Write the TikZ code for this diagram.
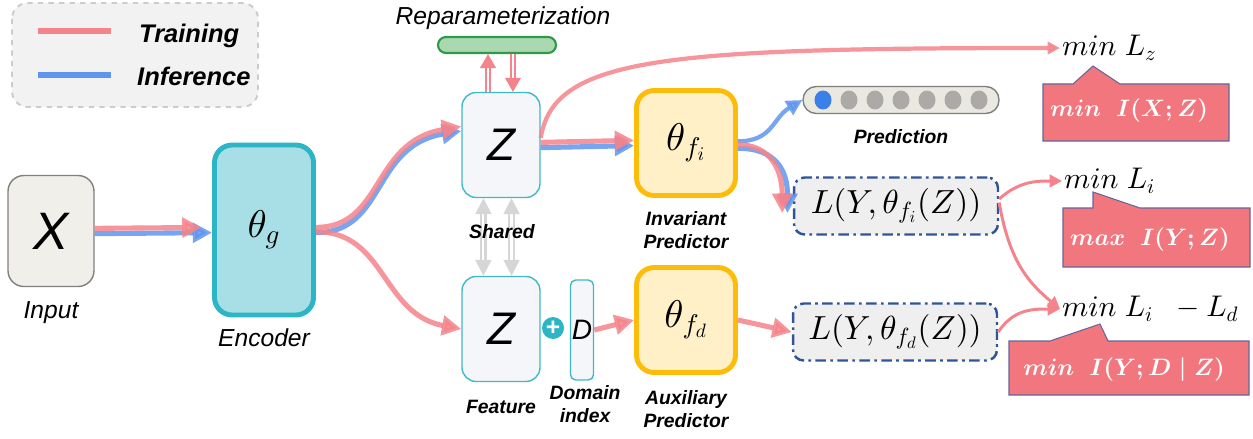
\documentclass[tikz,border=0pt]{standalone}
\usepackage[no-math]{fontspec}
\setmainfont{Liberation Sans}
\usetikzlibrary{positioning,arrows.meta,shapes.geometric}
\DeclareFontShape{OML}{cmm}{m}{it}{<->cmmi10}{}
\DeclareFontShape{OML}{cmm}{b}{it}{<->cmmib10}{}
\DeclareFontShape{OMS}{cmsy}{m}{n}{<->cmsy10}{}
\DeclareFontShape{OMS}{cmsy}{b}{n}{<->cmbsy10}{}
\DeclareFontShape{OT1}{cmr}{m}{n}{<->cmr10}{}
\DeclareFontShape{OT1}{cmr}{bx}{n}{<->cmbx10}{}

\definecolor{trainred}{HTML}{F4838B}
\definecolor{inferblue}{HTML}{5F95EE}
\definecolor{legendgray}{HTML}{F2F2F2}
\definecolor{inputfill}{HTML}{F0EFE9}
\definecolor{encfill}{HTML}{A8DFE6}
\definecolor{encline}{HTML}{2BB5C5}
\definecolor{featfill}{HTML}{F4F6FA}
\definecolor{featline}{HTML}{3FB8C8}
\definecolor{predfill}{HTML}{FFF0C8}
\definecolor{predline}{HTML}{FCBD0A}
\definecolor{lossfill}{HTML}{EFEFEF}
\definecolor{lossline}{HTML}{2F5597}
\definecolor{reparfill}{HTML}{A9D8B1}
\definecolor{reparline}{HTML}{2E9A47}
\definecolor{calloutfill}{HTML}{F2767E}
\definecolor{sharedgray}{HTML}{D6D6D6}
\definecolor{dotgray}{HTML}{ADA9A6}
\definecolor{dotblue}{HTML}{3C7FE6}
\definecolor{barfill}{HTML}{E9E9E1}

\tikzset{
  legendtext/.style={font=\fontsize{14.5}{16}\selectfont\bfseries\itshape, anchor=west},
  caption/.style={font=\fontsize{14}{16}\selectfont\itshape},
  tag/.style={font=\fontsize{11}{13}\selectfont\bfseries\itshape, align=center},
  inbox/.style={draw=gray, fill=inputfill, rounded corners=9pt, line width=0.8pt, minimum width=1.72cm, minimum height=2.22cm, font=\fontsize{30}{32}\selectfont\itshape},
  encbox/.style={draw=encline, fill=encfill, rounded corners=10pt, line width=2.8pt, minimum width=1.98cm, minimum height=3.4cm, font=\fontsize{22}{24}\selectfont},
  featbox/.style={draw=featline, fill=featfill, rounded corners=8pt, line width=0.8pt, minimum width=1.56cm, minimum height=2.1cm, font=\fontsize{26}{28}\selectfont\itshape},
  predbox/.style={draw=predline, fill=predfill, rounded corners=10pt, line width=2.8pt, minimum width=1.98cm, minimum height=2.1cm, font=\fontsize{22}{24}\selectfont},
  lossbox/.style={draw=lossline, fill=lossfill, rounded corners=6pt, line width=1.4pt, dash pattern=on 6pt off 2.5pt on 1.5pt off 2.5pt, minimum width=4.08cm, minimum height=1.14cm, font=\fontsize{19}{21}\selectfont},
  mintext/.style={font=\fontsize{17}{19}\selectfont, anchor=west, inner sep=1pt},
  calloutbox/.style={fill=calloutfill, draw=gray!80!blue, line width=0.6pt},
  callouttext/.style={text=white, font=\fontsize{13.5}{15}\selectfont\boldmath},
  dotnode/.style={ellipse, fill=dotgray, minimum width=0.34cm, minimum height=0.38cm, inner sep=0pt},
  trainpath/.style={draw=trainred, line width=2.9pt, opacity=0.85},
  inferpath/.style={draw=inferblue, line width=2.9pt, opacity=0.85},
  losspath/.style={draw=trainred, line width=1.7pt},
  bigtip/.style={-{Triangle[length=11pt,width=11pt]}},
  smalltip/.style={-{Triangle[length=7pt,width=7pt]}},
  sharedarrow/.style={draw=sharedgray, double=white, line width=1.2pt, double distance=1.2pt, {Triangle[length=9pt,width=9pt]}-{Triangle[length=9pt,width=9pt]}},
  reparrow/.style={draw=trainred, double=white, line width=1pt, double distance=1.2pt, -{Triangle[length=8pt,width=9pt]}},
}

\begin{document}
\begin{tikzpicture}[x=0.02cm,y=-0.02cm]
    \useasboundingbox (0,0) rectangle (1253,439);

    % legend
    \draw[draw=gray!40, fill=legendgray, dashed, line width=1.1pt, rounded corners=9pt] (12,3) rectangle (258,107);
    \coordinate (ta) at (38,31);
    \coordinate (tb) at (111,31);
    \coordinate (ia) at (38,75);
    \coordinate (ib) at (111,75);
    \draw[draw=trainred, line width=3.4pt] (ta) -- (tb);
    \draw[draw=inferblue, line width=3.4pt] (ia) -- (ib);
    \node[legendtext] (trlbl) at (133,36) {Training};
    \node[legendtext] (inflbl) at (131,76) {Inference};

    \node[inbox] (in) at (51,231) {X};
    \node[caption, below=0.16cm of in] (inlbl) {Input};
    \node[encbox] (enc) at (264,230) {$\theta_g$};
    \node[caption, below=0.1cm of enc] (enclbl) {Encoder};

    \node[featbox] (zt) at (501,145) {Z};
    \node[featbox] (zb) at (501,329) {Z};
    \node[tag, below=0.23cm of zb] (zblbl) {Feature};

    \node[fill=reparfill, draw=reparline, line width=1.2pt, rounded corners=4.5pt, minimum width=2.36cm, minimum height=0.32cm, inner sep=0pt] (repar) at (497,45) {};
    \node[caption] (reparlbl) at (503,18) {Reparameterization};

    \node[circle, fill=encline, text=white, inner sep=0pt, minimum size=0.44cm, font=\fontsize{14}{14}\selectfont\bfseries] (plus) at (553,328) {+};
    \node[draw=featline, fill=featfill, line width=0.8pt, rounded corners=3pt, minimum width=0.46cm, minimum height=2cm, inner sep=0pt, font=\fontsize{16}{18}\selectfont\itshape] (dom) at (582,330) {D};
    \node[tag] (domlbl) at (585,404) {Domain\\index};

    \node[predbox] (fi) at (686,143) {$\theta_{f_i}$};
    \node[tag, below=0.15cm of fi] (filbl) {Invariant\\Predictor};
    \node[predbox] (fd) at (686,320) {$\theta_{f_d}$};
    \node[tag, below=0.18cm of fd] (fdlbl) {Auxiliary\\Predictor};

    \node[draw=gray, fill=barfill, line width=0.8pt, rounded corners=7.5pt, minimum width=3.92cm, minimum height=0.54cm, inner sep=0pt] (pred) at (901,100) {};
    \node[dotnode, fill=dotblue] (d0) at (823,100) {};
    \foreach \i in {1,...,6}
        \node[dotnode] (d\i) at (823+26*\i,100) {};
    \node[tag, below=0.19cm of pred] (predlbl) {Prediction};

    \node[lossbox] (li) at (896,206) {$L(Y,\theta_{f_i}(Z))$};
    \node[lossbox] (ld) at (895,332) {$L(Y,\theta_{f_d}(Z))$};

    \node[mintext] (mlz) at (1060,48) {$min\;L_z$};
    \node[mintext] (mli) at (1062,181) {$min\;L_i$};
    \node[mintext] (mld) at (1060,309) {$min\;L_i\;\;-L_d$};

    \filldraw[calloutbox] (1043,84) -- (1073,84) -- (1093,66) -- (1120,84) -- (1229,84) -- (1229,141) -- (1043,141) -- cycle;
    \node[callouttext] (clz) at (1129,111) {$min\;\;I(X;Z)$};
    \filldraw[calloutbox] (1063,208) -- (1093,208) -- (1093,192) -- (1140,208) -- (1250,208) -- (1250,267) -- (1063,267) -- cycle;
    \node[callouttext] (cli) at (1150,240) {$max\;\;I(Y;Z)$};
    \filldraw[calloutbox] (1009,341) -- (1050,341) -- (1100,324) -- (1108,341) -- (1249,341) -- (1249,395) -- (1009,395) -- cycle;
    \node[callouttext] (cld) at (1124,370) {$min\;\;I(Y;D\mid Z)$};

    \draw[inferpath, bigtip] ([yshift=-1.5pt]in.east) -- ([yshift=-1.5pt]enc.west);
    \draw[trainpath, bigtip, shorten >=6pt] ([yshift=1.5pt]in.east) -- ([yshift=1.5pt]enc.west);

    \draw[inferpath, bigtip] ([yshift=-1.5pt]enc.east) .. controls +(70,0) and +(-90,15) .. ([yshift=8pt]zt.west);
    \draw[trainpath, bigtip] ([yshift=1.5pt]enc.east) .. controls +(68,0) and +(-90,15) .. ([yshift=10.5pt]zt.west);
    \draw[trainpath, bigtip] ([yshift=-1pt]enc.east) .. controls +(70,0) and +(-80,-15) .. (zb.west);

    \draw[inferpath, bigtip] ([yshift=-1.5pt]zt.east) -- ([yshift=-1.5pt]fi.west);
    \draw[trainpath, bigtip] ([yshift=1.5pt]zt.east) -- ([yshift=1.5pt]fi.west);
    \draw[trainpath, line width=2.4pt, smalltip] ([yshift=4pt]zt.east) .. controls +(13,-80) and +(-400,0) .. (mlz.west);

    \draw[sharedarrow] ([xshift=-10pt]zt.south) -- ([xshift=-10pt]zb.north);
    \draw[sharedarrow] ([xshift=6pt]zt.south) -- ([xshift=6pt]zb.north);
    \node[tag] (shared) at (502,232) {Shared};

    \draw[reparrow] ([xshift=-7.4pt]zt.north) -- ([xshift=-7.4pt]zt.north |- repar.south);
    \draw[reparrow] ([xshift=6.8pt]zt.north |- repar.south) -- ([xshift=6.8pt]zt.north);

    \draw[inferpath, line width=2.4pt, -{Triangle[length=9pt,width=9pt]}] ([yshift=1pt]fi.east) .. controls +(35,0) and +(-30,18) .. (pred.west);
    \draw[inferpath, bigtip] ([yshift=-3pt]fi.east) .. controls +(40,0) and +(0,-40) .. ([xshift=-3pt,yshift=-4pt]li.west);
    \draw[trainpath, bigtip] ([yshift=-1pt]fi.east) .. controls +(35,0) and +(0,-40) .. ([xshift=-6pt,yshift=-4pt]li.west);

    \draw[trainpath, bigtip] (dom.east) -- (fd.west);
    \draw[trainpath, bigtip] (fd.east) -- (ld.west);

    \draw[losspath, smalltip] ([yshift=4pt]li.east) .. controls +(20,-18) and +(-25,0) .. (mli.west);
    \draw[losspath, smalltip] ([yshift=2pt]li.east) .. controls +(10,60) and +(-30,-25) .. (mld.west);
    \draw[losspath, smalltip] (ld.east) .. controls +(15,-22) and +(-30,0) .. (mld.west);
\end{tikzpicture}
\end{document}
